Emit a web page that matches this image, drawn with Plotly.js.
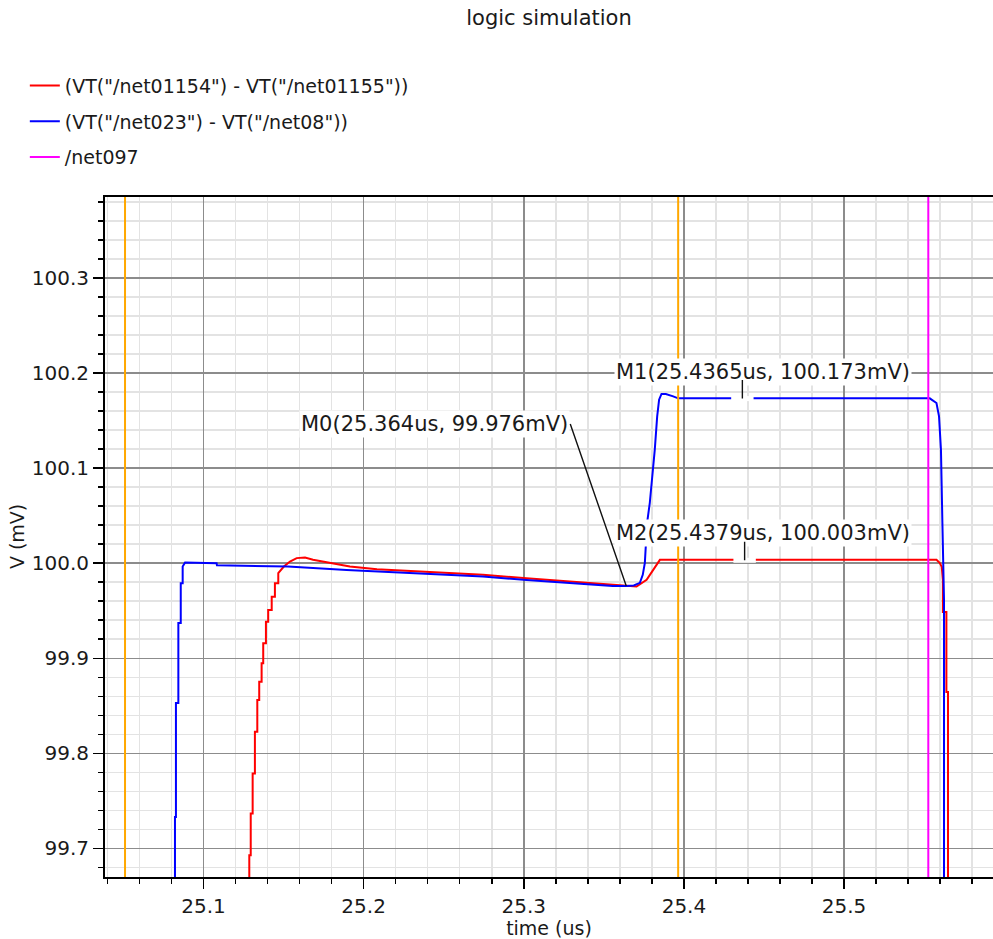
<!DOCTYPE html>
<html>
<head>
<meta charset="utf-8">
<script src="https://cdn.plot.ly/plotly-3.0.1.min.js"></script>
<style>html,body{margin:0;padding:0;background:#fff;}#chart{width:993px;height:939px;}</style>
</head>
<body>
<div id="chart"></div>
<script>
// ---- data (time in us, voltage in mV) ----
const redName = '(VT("/net01154") - VT("/net01155"))';
const blueName = '(VT("/net023") - VT("/net08"))';
const magName = '/net097';

const redTime = [25.1286, 25.1286, 25.1295, 25.1295, 25.1307, 25.1307, 25.1321, 25.1321, 25.1336, 25.1336, 25.1348, 25.1348, 25.1363, 25.1363, 25.1373, 25.1373, 25.1390, 25.1390, 25.1404, 25.1404, 25.1426, 25.1426, 25.1446, 25.1446, 25.1467, 25.1467, 25.1502, 25.1540, 25.1582, 25.1634, 25.1684, 25.1746, 25.1833, 25.1914, 25.2083, 25.2331, 25.2745, 25.3017, 25.3306, 25.3475, 25.3600, 25.3704, 25.3767, 25.3808, 25.3850, 25.5577, 25.5597, 25.5610, 25.5617, 25.5617, 25.5639, 25.5639, 25.5649, 25.5649];
const redV = [99.60, 99.693, 99.693, 99.7368, 99.7368, 99.7789, 99.7789, 99.8227, 99.8227, 99.8561, 99.8561, 99.8754, 99.8754, 99.8947, 99.8947, 99.9158, 99.9158, 99.9385, 99.9385, 99.9508, 99.9508, 99.9648, 99.9648, 99.9789, 99.9789, 99.9895, 99.9964, 100.0017, 100.0053, 100.0059, 100.0035, 100.0017, 99.9989, 99.9964, 99.9935, 99.9912, 99.9877, 99.9842, 99.9806, 99.9782, 99.9766, 99.9754, 99.9824, 99.9929, 100.0035, 100.0035, 100.0003, 99.9961, 99.9824, 99.9487, 99.9487, 99.8645, 99.8645, 99.60];

const blueTime = [25.0822, 25.0822, 25.0828, 25.0828, 25.0843, 25.0843, 25.0858, 25.0858, 25.0870, 25.0870, 25.0885, 25.0897, 25.0903, 25.1082, 25.1084, 25.1527, 25.1894, 25.2331, 25.2745, 25.3017, 25.3306, 25.3556, 25.3642, 25.3687, 25.3725, 25.3743, 25.3756, 25.3770, 25.3787, 25.3804, 25.3818, 25.3833, 25.3845, 25.3860, 25.3887, 25.3933, 25.3964, 25.5535, 25.5577, 25.5593, 25.5605, 25.5614, 25.5620, 25.5624, 25.5624];
const blueV = [99.60, 99.733, 99.733, 99.853, 99.853, 99.937, 99.937, 99.979, 99.979, 99.9964, 100.0006, 100.0006, 100.000, 100.000, 99.9977, 99.9964, 99.9929, 99.9895, 99.9859, 99.9824, 99.9789, 99.9761, 99.9761, 99.9766, 99.9793, 99.9877, 100.0003, 100.0424, 100.0635, 100.0912, 100.1193, 100.1543, 100.1719, 100.1779, 100.1779, 100.1754, 100.1733, 100.1733, 100.1684, 100.1543, 100.1193, 100.0424, 100.0035, 99.9614, 99.60];

const magTime = [25.03, 25.5526, 25.5526, 25.60];
const magV = [0, 0, 1000, 1000];

const cursorTimes = [25.051, 25.3964];

const markerNames = ['M0', 'M1', 'M2'];
const markerTimes = [25.364, 25.4365, 25.4379];
const markerValues = [99.976, 100.173, 100.003];
const markerTimeText = ['25.364', '25.4365', '25.4379'];
const markerValueText = ['99.976', '100.173', '100.003'];

const xTitle = 'time (us)';
const yTitle = 'V (mV)';
const chartTitle = 'logic simulation';

// ---- styling ----
const FONT = 'DejaVu Sans, Verdana, sans-serif';
const TXT = '#1a1a1a';

const traces = [
  {x: redTime, y: redV, name: redName, type: 'scatter', mode: 'lines',
   line: {color: 'rgb(255,0,0)', width: 2}, legendgroup: 'a'},
  {x: blueTime, y: blueV, name: blueName, type: 'scatter', mode: 'lines',
   line: {color: 'rgb(0,0,255)', width: 2}, legendgroup: 'b'},
  {x: markerTimes.slice(1), y: markerValues.slice(1), type: 'scatter', mode: 'markers',
   showlegend: false, hoverinfo: 'skip',
   marker: {symbol: 'line-ew', size: 16, line: {color: 'white', width: 5}}},
  {x: magTime, y: magV, name: magName, type: 'scatter', mode: 'lines',
   line: {color: 'rgb(255,0,255)', width: 2}, legendgroup: 'c'}
];

const shapes = cursorTimes.map(t => ({
  type: 'line', xref: 'x', yref: 'paper', x0: t, x1: t, y0: 0, y1: 1,
  line: {color: 'rgb(255,168,0)', width: 2}, layer: 'above'
}));

function label(i) {
  return markerNames[i] + '(' + markerTimeText[i] + 'us, ' + markerValueText[i] + 'mV)';
}

const ANN = 21;
const annotations = [
  {x: markerTimes[0], y: markerValues[0], xref: 'x', yref: 'y', text: label(0),
   showarrow: true, arrowhead: 0, arrowwidth: 1.4, arrowcolor: '#111',
   ax: -56, ay: -162, xanchor: 'right', yanchor: 'middle',
   bgcolor: 'white', borderpad: 1, font: {family: FONT, size: ANN, color: TXT}},
  {x: markerTimes[1], y: markerValues[1], xref: 'x', yref: 'y', text: label(1),
   showarrow: false, xshift: 20.5, yshift: 27, bgcolor: 'white', borderpad: 1,
   font: {family: FONT, size: ANN, color: TXT}},
  {x: markerTimes[1], y: markerValues[1], xref: 'x', yref: 'y', text: '',
   showarrow: true, arrowhead: 0, arrowwidth: 1.4, arrowcolor: '#111', ax: 0, ay: -20},
  {x: markerTimes[2], y: markerValues[2], xref: 'x', yref: 'y', text: label(2),
   showarrow: false, xshift: 18, yshift: 27, bgcolor: 'white', borderpad: 1,
   font: {family: FONT, size: ANN, color: TXT}},
  {x: markerTimes[2], y: markerValues[2], xref: 'x', yref: 'y', text: '',
   showarrow: true, arrowhead: 0, arrowwidth: 1.4, arrowcolor: '#111', ax: 0, ay: -20},
  // y axis title
  {x: -0.099, y: 0.5, xref: 'paper', yref: 'paper', text: yTitle, textangle: -90,
   showarrow: false, xanchor: 'center', yanchor: 'middle',
   font: {family: FONT, size: 19, color: TXT}}
];

const layout = {
  width: 993, height: 939,
  margin: {l: 105, r: 0, t: 197, b: 62, autoexpand: false},
  paper_bgcolor: 'white', plot_bgcolor: 'white',
  font: {family: FONT, color: TXT, size: 19},
  title: {text: chartTitle, x: 0.5, xref: 'paper', xanchor: 'center',
          y: 1 - 18 / 939, yref: 'container', yanchor: 'middle',
          font: {family: FONT, size: 21, color: TXT}},
  showlegend: true,
  legend: {xref: 'container', yref: 'container', x: 0.025, y: 0.929,
           xanchor: 'left', yanchor: 'top', traceorder: 'grouped', tracegroupgap: 8,
           font: {family: FONT, size: 19, color: TXT}, bgcolor: 'rgba(0,0,0,0)'},
  xaxis: {
    range: [25.0385, 25.593], dtick: 0.1, tick0: 25, tickformat: '.1f',
    showline: true, linecolor: 'black', linewidth: 2, mirror: true,
    ticks: 'outside', ticklen: 10, tickwidth: 1.5, tickcolor: 'black',
    showgrid: true, gridcolor: '#8c8c8c', gridwidth: 1.5, zeroline: false,
    tickfont: {family: FONT, size: 20, color: TXT},
    minor: {dtick: 0.02, tick0: 25, ticks: 'outside', ticklen: 5, tickwidth: 1.5, tickcolor: 'black',
            showgrid: true, gridcolor: '#e3e3e3', gridwidth: 1.5},
    title: {text: xTitle, font: {family: FONT, size: 19, color: TXT}}
  },
  yaxis: {
    range: [99.670, 100.385], dtick: 0.1, tick0: 100, tickformat: '.1f',
    showline: true, linecolor: 'black', linewidth: 2, mirror: false,
    ticks: 'outside', ticklen: 10, tickwidth: 1.5, tickcolor: 'black',
    showgrid: true, gridcolor: '#8c8c8c', gridwidth: 1.5, zeroline: false,
    tickfont: {family: FONT, size: 20, color: TXT},
    minor: {dtick: 0.02, tick0: 100, ticks: 'outside', ticklen: 5, tickwidth: 1.5, tickcolor: 'black',
            showgrid: true, gridcolor: '#e3e3e3', gridwidth: 1.5}
  },
  shapes: shapes,
  annotations: annotations
};

Plotly.newPlot('chart', traces, layout, {displayModeBar: false, staticPlot: true});
</script>
</body>
</html>
